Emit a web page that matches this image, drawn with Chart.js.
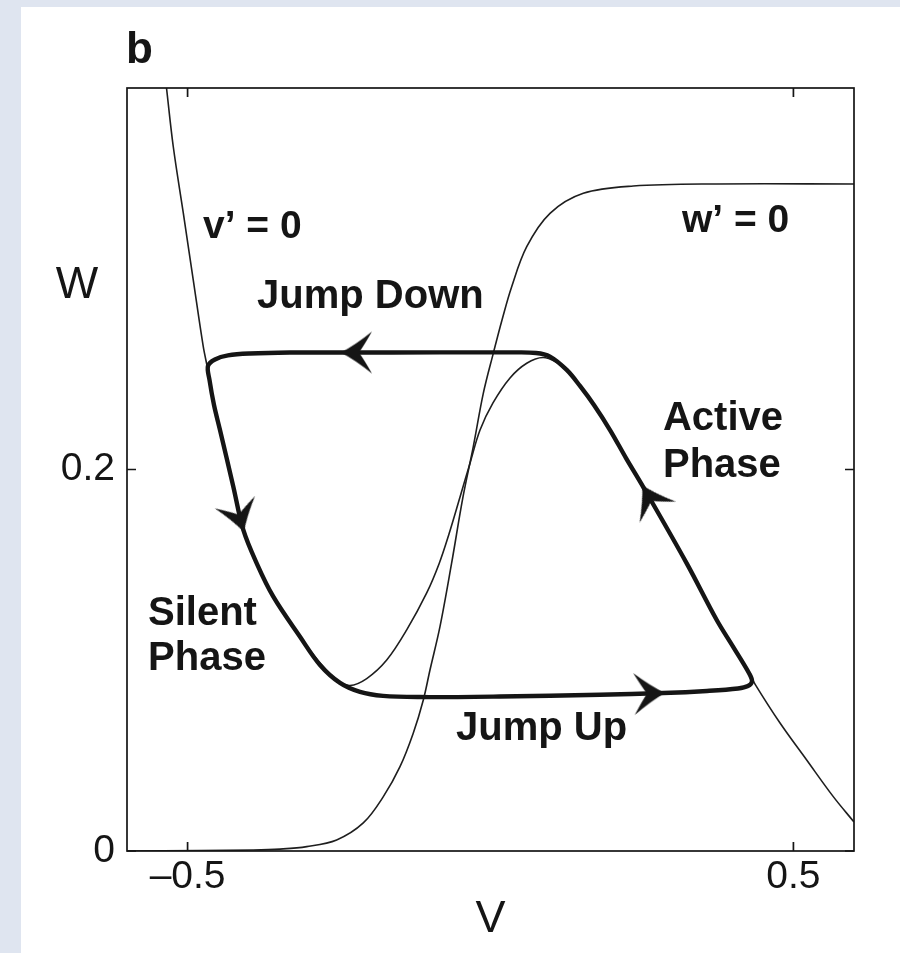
<!DOCTYPE html>
<html>
<head>
<meta charset="utf-8">
<title>Phase plane: relaxation oscillation</title>
<script src="https://cdn.jsdelivr.net/npm/chart.js@4.4.1/dist/chart.umd.min.js"></script>
<style>
  html, body { margin: 0; padding: 0; }
  body { width: 900px; height: 953px; background: #dfe5f0; overflow: hidden; position: relative; }
  #panel { position: absolute; left: 21px; top: 7px; width: 879px; height: 946px; background: #fff; }
  canvas { display: block; }
</style>
</head>
<body>
<div id="panel"><canvas id="phase" width="879" height="946"></canvas></div>
<script>
// --- v-nullcline (v' = 0), cubic shaped, read from top-left down to bottom-right ---
const vNullV = [-0.5348, -0.5236, -0.5071, -0.4906, -0.4741, -0.4671, -0.4580, -0.4465,
  -0.4245, -0.4080, -0.3859, -0.3585, -0.3144, -0.2814, -0.2534, -0.2319, -0.2043,
  -0.1713, -0.1383, -0.1053, -0.0850, -0.0685, -0.0503, -0.0338, -0.0173, 0.0041,
  0.0322, 0.0598, 0.0867, 0.1114, 0.1258, 0.1477, 0.1708, 0.1973, 0.2237, 0.2517,
  0.3239, 0.3734, 0.4008, 0.4283, 0.4366, 0.4779, 0.5219, 0.5658, 0.6000];
const vNullW = [0.4000, 0.3692, 0.3345, 0.2993, 0.2644, 0.2532, 0.2375, 0.2207,
  0.1910, 0.1683, 0.1508, 0.1333, 0.1123, 0.0986, 0.0896, 0.0868, 0.0904,
  0.1001, 0.1159, 0.1353, 0.1505, 0.1662, 0.1856, 0.2033, 0.2207, 0.2349,
  0.2480, 0.2557, 0.2587, 0.2558, 0.2522, 0.2438, 0.2338, 0.2207, 0.2060, 0.1903,
  0.1508, 0.1211, 0.1069, 0.0928, 0.0875, 0.0671, 0.0477, 0.0285, 0.0152];

// --- w-nullcline (w' = 0), sigmoid ---
const wNullV = [-0.6000, -0.4795, -0.3920, -0.3475, -0.3034, -0.2539, -0.2100, -0.1769,
  -0.1494, -0.1274, -0.1109, -0.0999, -0.0834, -0.0644, -0.0454, -0.0284, -0.0119,
  0.0046, 0.0190, 0.0347, 0.0598, 0.0982, 0.1532, 0.2357, 0.3734, 0.6000];
const wNullW = [0.0000, 0.0002, 0.0005, 0.0010, 0.0023, 0.0058, 0.0147, 0.0285,
  0.0442, 0.0619, 0.0792, 0.0949, 0.1176, 0.1505, 0.1856, 0.2120, 0.2399,
  0.2609, 0.2784, 0.2956, 0.3168, 0.3343, 0.3448, 0.3486, 0.3497, 0.3497];

// --- periodic orbit, listed in the direction of travel ---
const orbitV = [0.0322, -0.0834, -0.2435, -0.3310, -0.3970, -0.4333, -0.4548, -0.4663,
  -0.4638, -0.4564, -0.4465, -0.4245, -0.4080, -0.3859, -0.3585, -0.3144, -0.2814,
  -0.2484, -0.2154, -0.1774, -0.1164, 0.0157, 0.1807, 0.2847, 0.3574, 0.4085, 0.4250,
  0.4316, 0.4275, 0.4008, 0.3734, 0.3239, 0.2522, 0.2237, 0.1973, 0.1708, 0.1477,
  0.1258, 0.0982, 0.0751, 0.0322];
const orbitW = [0.2614, 0.2614, 0.2613, 0.2613, 0.2608, 0.2598, 0.2577, 0.2543,
  0.2469, 0.2338, 0.2207, 0.1910, 0.1683, 0.1508, 0.1333, 0.1123, 0.0975,
  0.0881, 0.0834, 0.0813, 0.0807, 0.0810, 0.0819, 0.0828, 0.0839, 0.0852, 0.0865,
  0.0889, 0.0928, 0.1069, 0.1211, 0.1508, 0.1908, 0.2060, 0.2207, 0.2338, 0.2438,
  0.2522, 0.2592, 0.2611, 0.2614];

// orbit vertices that carry a direction arrow
const arrowAt = [2, 12, 23, 32];

const xTicks = [-0.5, 0.5];
const xTickLabels = ['\u20130.5', '0.5'];
const yTicks = [0, 0.2];
const yTickLabels = ['0', '0.2'];

const INK = '#151515';
const FONT = '"Liberation Sans", Arial, Helvetica, sans-serif';
const LABEL = 'bold 40px ' + FONT;

// text placed in data coordinates (v, w) at the baseline
const notes = [
  { text: 'b', v: -0.6017, w: 0.4131, font: 'bold 44px ' + FONT },
  { text: 'W', v: -0.6825, w: 0.2899, font: '45px ' + FONT, align: 'center' },
  { text: 'v\u2019 = 0', v: -0.4746, w: 0.3214, font: 'bold 39px ' + FONT },
  { text: 'w\u2019 = 0', v: 0.3161, w: 0.3247, font: 'bold 39px ' + FONT },
  { text: 'Jump Down', v: -0.3854, w: 0.2845, font: LABEL },
  { text: 'Active', v: 0.2847, w: 0.2207, font: LABEL },
  { text: 'Phase', v: 0.2847, w: 0.1962, font: LABEL },
  { text: 'Silent', v: -0.5653, w: 0.1185, font: LABEL },
  { text: 'Phase', v: -0.5653, w: 0.0949, font: LABEL },
  { text: 'Jump Up', v: -0.0569, w: 0.0582, font: LABEL }
];

const toPoints = (xs, ys) => xs.map((x, i) => ({ x, y: ys[i] }));

// barbed arrow head, tip at the centre of the canvas, pointing along +x
function makeArrowHead() {
  const c = document.createElement('canvas');
  c.width = 70;
  c.height = 70;
  const g = c.getContext('2d');
  g.translate(35, 35);
  g.fillStyle = INK;
  g.beginPath();
  g.moveTo(2, 0);
  g.quadraticCurveTo(-13, -8, -29, -21);
  g.quadraticCurveTo(-21, -7, -16, 0);
  g.quadraticCurveTo(-21, 7, -29, 21);
  g.quadraticCurveTo(-13, 8, 2, 0);
  g.fill();
  return c;
}
const arrowHead = makeArrowHead();

// direction of travel (degrees, screen space) at orbit vertex i
function headingAt(chart, i) {
  const sx = chart.scales.x, sy = chart.scales.y;
  if (!sx || !sy) return 0;
  const a = Math.max(i - 1, 0), b = Math.min(i + 1, orbitV.length - 1);
  const dx = sx.getPixelForValue(orbitV[b]) - sx.getPixelForValue(orbitV[a]);
  const dy = sy.getPixelForValue(orbitW[b]) - sy.getPixelForValue(orbitW[a]);
  return Math.atan2(dy, dx) * 180 / Math.PI;
}

// box frame, inward ticks on all four sides, curve labels
const framePlugin = {
  id: 'frame',
  afterDatasetsDraw(chart) {
    const { ctx, chartArea: a, scales: { x, y } } = chart;
    const len = 9;
    ctx.save();
    ctx.strokeStyle = INK;
    ctx.lineWidth = 1.7;
    ctx.strokeRect(a.left, a.top, a.right - a.left, a.bottom - a.top);
    ctx.beginPath();
    xTicks.forEach(v => {
      const px = x.getPixelForValue(v);
      ctx.moveTo(px, a.bottom); ctx.lineTo(px, a.bottom - len);
      ctx.moveTo(px, a.top); ctx.lineTo(px, a.top + len);
    });
    yTicks.forEach(w => {
      const py = y.getPixelForValue(w);
      ctx.moveTo(a.left, py); ctx.lineTo(a.left + len, py);
      ctx.moveTo(a.right, py); ctx.lineTo(a.right - len, py);
    });
    ctx.stroke();

    ctx.fillStyle = INK;
    ctx.textBaseline = 'alphabetic';
    notes.forEach(n => {
      ctx.font = n.font;
      ctx.textAlign = n.align || 'left';
      ctx.fillText(n.text, x.getPixelForValue(n.v), y.getPixelForValue(n.w));
    });
    ctx.restore();
  }
};

new Chart(document.getElementById('phase'), {
  type: 'scatter',
  data: {
    datasets: [
      {
        label: 'direction',
        data: arrowAt.map(i => ({ x: orbitV[i], y: orbitW[i] })),
        pointStyle: arrowHead,
        pointRadius: 10,
        pointRotation: (c) => headingAt(c.chart, arrowAt[c.dataIndex]),
        showLine: false
      },
      {
        label: 'orbit',
        data: toPoints(orbitV, orbitW),
        showLine: true,
        borderColor: INK,
        borderWidth: 4.4,
        tension: 0.35,
        pointRadius: 0,
        borderJoinStyle: 'round',
        borderCapStyle: 'round'
      },
      {
        label: "v' = 0",
        data: toPoints(vNullV, vNullW),
        showLine: true,
        borderColor: '#1e1e1e',
        borderWidth: 1.6,
        tension: 0.35,
        pointRadius: 0
      },
      {
        label: "w' = 0",
        data: toPoints(wNullV, wNullW),
        showLine: true,
        borderColor: '#1e1e1e',
        borderWidth: 1.6,
        tension: 0.35,
        pointRadius: 0
      }
    ]
  },
  options: {
    responsive: false,
    animation: false,
    events: [],
    layout: { padding: { top: 81, right: 46, left: 0, bottom: 0 } },
    plugins: {
      legend: { display: false },
      tooltip: { enabled: false },
      title: { display: false }
    },
    scales: {
      x: {
        type: 'linear',
        min: -0.6,
        max: 0.6,
        grid: { display: false, drawTicks: false },
        border: { display: false },
        ticks: {
          font: { family: FONT, size: 39 },
          color: INK,
          padding: 3,
          autoSkip: false,
          maxRotation: 0,
          callback: (v, i) => xTickLabels[i]
        },
        afterBuildTicks: (s) => { s.ticks = xTicks.map(value => ({ value })); },
        afterFit: (s) => { s.height = 102; },
        title: {
          display: true,
          text: 'V',
          font: { family: FONT, size: 45 },
          color: INK,
          padding: { top: 0, bottom: 6 }
        }
      },
      y: {
        type: 'linear',
        min: 0,
        max: 0.4,
        grid: { display: false, drawTicks: false },
        border: { display: false },
        ticks: {
          font: { family: FONT, size: 39 },
          color: INK,
          padding: 12,
          autoSkip: false,
          callback: (v, i) => yTickLabels[i]
        },
        afterBuildTicks: (s) => { s.ticks = yTicks.map(value => ({ value })); },
        afterFit: (s) => { s.width = 106; }
      }
    }
  },
  plugins: [framePlugin]
});
</script>
</body>
</html>
